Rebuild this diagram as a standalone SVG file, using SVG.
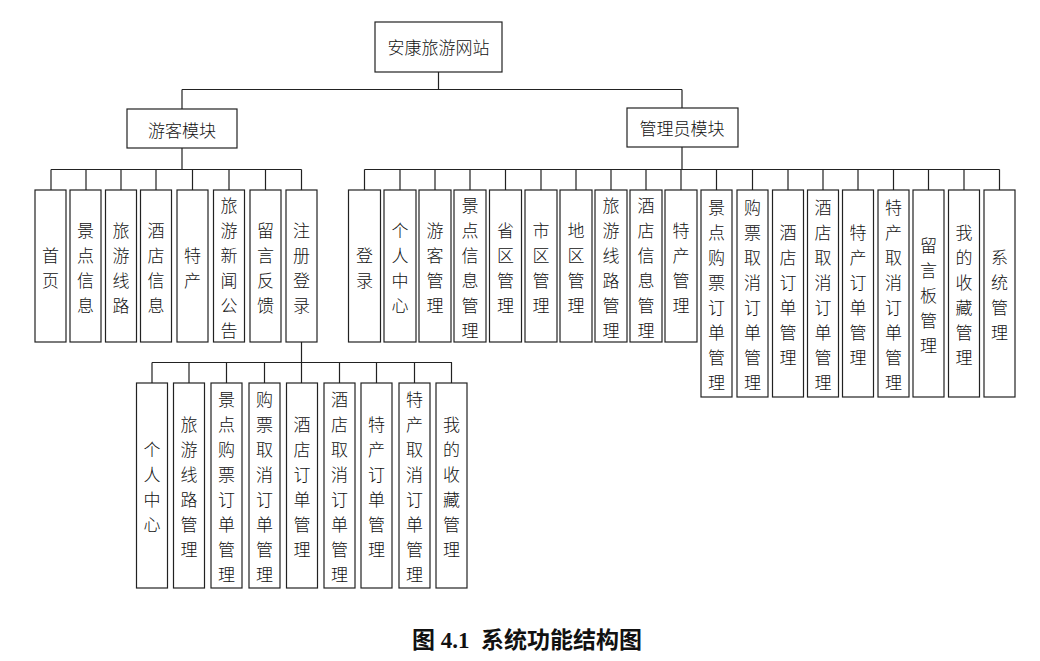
<svg xmlns="http://www.w3.org/2000/svg" width="1040" height="661" viewBox="0 0 1040 661">
<style>
.b{fill:#fff;stroke:#222;stroke-width:1.2}
.c{fill:none;stroke:#222;stroke-width:1.2}
.t{font-family:"Noto Sans CJK SC","Liberation Serif",sans-serif;font-size:17px;font-weight:300;fill:#111;text-anchor:middle;dominant-baseline:central}
.cap{font-family:"Liberation Serif","Noto Sans CJK SC",serif;font-size:23px;font-weight:bold;fill:#111;text-anchor:middle;dominant-baseline:central}
</style>
<rect width="1040" height="661" fill="#fff"/>
<g id="connectors">
<path class="c" d="M438.5,72V89.5M182,89.5H682M182,89.5V109M682,89.5V108"/>
<path class="c" d="M182,148V169.5M51,169.5H301.5M51,169.5V190M86,169.5V190M121,169.5V190M156,169.5V190M192.5,169.5V190M229,169.5V190M265.5,169.5V190M301.5,169.5V190"/>
<path class="c" d="M682,147V169.5M364.5,169.5H999.5M364.5,169.5V190M400,169.5V190M435,169.5V190M470,169.5V190M505.5,169.5V190M541,169.5V190M576,169.5V190M611,169.5V190M646,169.5V190M681,169.5V190M716.5,169.5V190M752.5,169.5V190M788,169.5V190M823,169.5V190M858,169.5V190M893.5,169.5V190M928.5,169.5V190M964,169.5V190M999.5,169.5V190"/>
<path class="c" d="M301.5,342V362.5M152,362.5H452M152,362.5V383M189,362.5V383M226.5,362.5V383M264.5,362.5V383M301.5,362.5V383M339.5,362.5V383M376.5,362.5V383M414.5,362.5V383M451.5,362.5V383"/>
</g>
<g id="root"><rect class="b" x="375" y="22" width="127" height="50"/><text class="t" x="438.5" y="46">安康旅游网站</text></g>
<g id="visitor"><rect class="b" x="127" y="109" width="110" height="39"/><text class="t" x="182" y="129">游客模块</text></g>
<g id="admin"><rect class="b" x="627" y="108" width="111" height="39"/><text class="t" x="682" y="127.5">管理员模块</text></g>

<g id="v1"><rect class="b" x="35" y="190" width="31" height="152"/><text class="t"><tspan x="50.5" y="253.5">首</tspan><tspan x="50.5" y="278.5">页</tspan></text></g>
<g id="v2"><rect class="b" x="70" y="190" width="31" height="152"/><text class="t"><tspan x="85.5" y="228.5">景</tspan><tspan x="85.5" y="253.5">点</tspan><tspan x="85.5" y="278.5">信</tspan><tspan x="85.5" y="303.5">息</tspan></text></g>
<g id="v3"><rect class="b" x="105.5" y="190" width="31" height="152"/><text class="t"><tspan x="121" y="228.5">旅</tspan><tspan x="121" y="253.5">游</tspan><tspan x="121" y="278.5">线</tspan><tspan x="121" y="303.5">路</tspan></text></g>
<g id="v4"><rect class="b" x="140.5" y="190" width="31" height="152"/><text class="t"><tspan x="156" y="228.5">酒</tspan><tspan x="156" y="253.5">店</tspan><tspan x="156" y="278.5">信</tspan><tspan x="156" y="303.5">息</tspan></text></g>
<g id="v5"><rect class="b" x="177" y="190" width="31" height="152"/><text class="t"><tspan x="192.5" y="253.5">特</tspan><tspan x="192.5" y="278.5">产</tspan></text></g>
<g id="v6"><rect class="b" x="213.5" y="190" width="31" height="152"/><text class="t"><tspan x="229" y="203.5">旅</tspan><tspan x="229" y="228.5">游</tspan><tspan x="229" y="253.5">新</tspan><tspan x="229" y="278.5">闻</tspan><tspan x="229" y="303.5">公</tspan><tspan x="229" y="328.5">告</tspan></text></g>
<g id="v7"><rect class="b" x="250" y="190" width="31" height="152"/><text class="t"><tspan x="265.5" y="228.5">留</tspan><tspan x="265.5" y="253.5">言</tspan><tspan x="265.5" y="278.5">反</tspan><tspan x="265.5" y="303.5">馈</tspan></text></g>
<g id="v8"><rect class="b" x="286" y="190" width="31" height="152"/><text class="t"><tspan x="301.5" y="228.5">注</tspan><tspan x="301.5" y="253.5">册</tspan><tspan x="301.5" y="278.5">登</tspan><tspan x="301.5" y="303.5">录</tspan></text></g>

<g id="a1"><rect class="b" x="348.5" y="190" width="32" height="152"/><text class="t"><tspan x="364.5" y="253.5">登</tspan><tspan x="364.5" y="278.5">录</tspan></text></g>
<g id="a2"><rect class="b" x="384" y="190" width="32" height="152"/><text class="t"><tspan x="400" y="228.5">个</tspan><tspan x="400" y="253.5">人</tspan><tspan x="400" y="278.5">中</tspan><tspan x="400" y="303.5">心</tspan></text></g>
<g id="a3"><rect class="b" x="419" y="190" width="32" height="152"/><text class="t"><tspan x="435" y="228.5">游</tspan><tspan x="435" y="253.5">客</tspan><tspan x="435" y="278.5">管</tspan><tspan x="435" y="303.5">理</tspan></text></g>
<g id="a4"><rect class="b" x="454" y="190" width="32" height="152"/><text class="t"><tspan x="470" y="203.5">景</tspan><tspan x="470" y="228.5">点</tspan><tspan x="470" y="253.5">信</tspan><tspan x="470" y="278.5">息</tspan><tspan x="470" y="303.5">管</tspan><tspan x="470" y="328.5">理</tspan></text></g>
<g id="a5"><rect class="b" x="489.5" y="190" width="32" height="152"/><text class="t"><tspan x="505.5" y="228.5">省</tspan><tspan x="505.5" y="253.5">区</tspan><tspan x="505.5" y="278.5">管</tspan><tspan x="505.5" y="303.5">理</tspan></text></g>
<g id="a6"><rect class="b" x="525" y="190" width="32" height="152"/><text class="t"><tspan x="541" y="228.5">市</tspan><tspan x="541" y="253.5">区</tspan><tspan x="541" y="278.5">管</tspan><tspan x="541" y="303.5">理</tspan></text></g>
<g id="a7"><rect class="b" x="560" y="190" width="32" height="152"/><text class="t"><tspan x="576" y="228.5">地</tspan><tspan x="576" y="253.5">区</tspan><tspan x="576" y="278.5">管</tspan><tspan x="576" y="303.5">理</tspan></text></g>
<g id="a8"><rect class="b" x="595" y="190" width="32" height="152"/><text class="t"><tspan x="611" y="203.5">旅</tspan><tspan x="611" y="228.5">游</tspan><tspan x="611" y="253.5">线</tspan><tspan x="611" y="278.5">路</tspan><tspan x="611" y="303.5">管</tspan><tspan x="611" y="328.5">理</tspan></text></g>
<g id="a9"><rect class="b" x="630" y="190" width="32" height="152"/><text class="t"><tspan x="646" y="203.5">酒</tspan><tspan x="646" y="228.5">店</tspan><tspan x="646" y="253.5">信</tspan><tspan x="646" y="278.5">息</tspan><tspan x="646" y="303.5">管</tspan><tspan x="646" y="328.5">理</tspan></text></g>
<g id="a10"><rect class="b" x="665" y="190" width="32" height="152"/><text class="t"><tspan x="681" y="228.5">特</tspan><tspan x="681" y="253.5">产</tspan><tspan x="681" y="278.5">管</tspan><tspan x="681" y="303.5">理</tspan></text></g>
<g id="a11"><rect class="b" x="701" y="190" width="31" height="207"/><text class="t"><tspan x="716.5" y="206">景</tspan><tspan x="716.5" y="231">点</tspan><tspan x="716.5" y="256">购</tspan><tspan x="716.5" y="281">票</tspan><tspan x="716.5" y="306">订</tspan><tspan x="716.5" y="331">单</tspan><tspan x="716.5" y="356">管</tspan><tspan x="716.5" y="381">理</tspan></text></g>
<g id="a12"><rect class="b" x="737" y="190" width="31" height="207"/><text class="t"><tspan x="752.5" y="206">购</tspan><tspan x="752.5" y="231">票</tspan><tspan x="752.5" y="256">取</tspan><tspan x="752.5" y="281">消</tspan><tspan x="752.5" y="306">订</tspan><tspan x="752.5" y="331">单</tspan><tspan x="752.5" y="356">管</tspan><tspan x="752.5" y="381">理</tspan></text></g>
<g id="a13"><rect class="b" x="772.5" y="190" width="31" height="207"/><text class="t"><tspan x="788" y="231">酒</tspan><tspan x="788" y="256">店</tspan><tspan x="788" y="281">订</tspan><tspan x="788" y="306">单</tspan><tspan x="788" y="331">管</tspan><tspan x="788" y="356">理</tspan></text></g>
<g id="a14"><rect class="b" x="807.5" y="190" width="31" height="207"/><text class="t"><tspan x="823" y="206">酒</tspan><tspan x="823" y="231">店</tspan><tspan x="823" y="256">取</tspan><tspan x="823" y="281">消</tspan><tspan x="823" y="306">订</tspan><tspan x="823" y="331">单</tspan><tspan x="823" y="356">管</tspan><tspan x="823" y="381">理</tspan></text></g>
<g id="a15"><rect class="b" x="842.5" y="190" width="31" height="207"/><text class="t"><tspan x="858" y="231">特</tspan><tspan x="858" y="256">产</tspan><tspan x="858" y="281">订</tspan><tspan x="858" y="306">单</tspan><tspan x="858" y="331">管</tspan><tspan x="858" y="356">理</tspan></text></g>
<g id="a16"><rect class="b" x="878" y="190" width="31" height="207"/><text class="t"><tspan x="893.5" y="206">特</tspan><tspan x="893.5" y="231">产</tspan><tspan x="893.5" y="256">取</tspan><tspan x="893.5" y="281">消</tspan><tspan x="893.5" y="306">订</tspan><tspan x="893.5" y="331">单</tspan><tspan x="893.5" y="356">管</tspan><tspan x="893.5" y="381">理</tspan></text></g>
<g id="a17"><rect class="b" x="913" y="190" width="31" height="207"/><text class="t"><tspan x="928.5" y="243.5">留</tspan><tspan x="928.5" y="268.5">言</tspan><tspan x="928.5" y="293.5">板</tspan><tspan x="928.5" y="318.5">管</tspan><tspan x="928.5" y="343.5">理</tspan></text></g>
<g id="a18"><rect class="b" x="948.5" y="190" width="31" height="207"/><text class="t"><tspan x="964" y="231">我</tspan><tspan x="964" y="256">的</tspan><tspan x="964" y="281">收</tspan><tspan x="964" y="306">藏</tspan><tspan x="964" y="331">管</tspan><tspan x="964" y="356">理</tspan></text></g>
<g id="a19"><rect class="b" x="984" y="190" width="31" height="207"/><text class="t"><tspan x="999.5" y="256">系</tspan><tspan x="999.5" y="281">统</tspan><tspan x="999.5" y="306">管</tspan><tspan x="999.5" y="331">理</tspan></text></g>

<g id="u1"><rect class="b" x="136.5" y="383" width="31" height="205"/><text class="t"><tspan x="152" y="448">个</tspan><tspan x="152" y="473">人</tspan><tspan x="152" y="498">中</tspan><tspan x="152" y="523">心</tspan></text></g>
<g id="u2"><rect class="b" x="173.5" y="383" width="31" height="205"/><text class="t"><tspan x="189" y="423">旅</tspan><tspan x="189" y="448">游</tspan><tspan x="189" y="473">线</tspan><tspan x="189" y="498">路</tspan><tspan x="189" y="523">管</tspan><tspan x="189" y="548">理</tspan></text></g>
<g id="u3"><rect class="b" x="211" y="383" width="31" height="205"/><text class="t"><tspan x="226.5" y="398">景</tspan><tspan x="226.5" y="423">点</tspan><tspan x="226.5" y="448">购</tspan><tspan x="226.5" y="473">票</tspan><tspan x="226.5" y="498">订</tspan><tspan x="226.5" y="523">单</tspan><tspan x="226.5" y="548">管</tspan><tspan x="226.5" y="573">理</tspan></text></g>
<g id="u4"><rect class="b" x="249" y="383" width="31" height="205"/><text class="t"><tspan x="264.5" y="398">购</tspan><tspan x="264.5" y="423">票</tspan><tspan x="264.5" y="448">取</tspan><tspan x="264.5" y="473">消</tspan><tspan x="264.5" y="498">订</tspan><tspan x="264.5" y="523">单</tspan><tspan x="264.5" y="548">管</tspan><tspan x="264.5" y="573">理</tspan></text></g>
<g id="u5"><rect class="b" x="286.5" y="383" width="31" height="205"/><text class="t"><tspan x="302" y="423">酒</tspan><tspan x="302" y="448">店</tspan><tspan x="302" y="473">订</tspan><tspan x="302" y="498">单</tspan><tspan x="302" y="523">管</tspan><tspan x="302" y="548">理</tspan></text></g>
<g id="u6"><rect class="b" x="324" y="383" width="31" height="205"/><text class="t"><tspan x="339.5" y="398">酒</tspan><tspan x="339.5" y="423">店</tspan><tspan x="339.5" y="448">取</tspan><tspan x="339.5" y="473">消</tspan><tspan x="339.5" y="498">订</tspan><tspan x="339.5" y="523">单</tspan><tspan x="339.5" y="548">管</tspan><tspan x="339.5" y="573">理</tspan></text></g>
<g id="u7"><rect class="b" x="361" y="383" width="31" height="205"/><text class="t"><tspan x="376.5" y="423">特</tspan><tspan x="376.5" y="448">产</tspan><tspan x="376.5" y="473">订</tspan><tspan x="376.5" y="498">单</tspan><tspan x="376.5" y="523">管</tspan><tspan x="376.5" y="548">理</tspan></text></g>
<g id="u8"><rect class="b" x="399" y="383" width="31" height="205"/><text class="t"><tspan x="414.5" y="398">特</tspan><tspan x="414.5" y="423">产</tspan><tspan x="414.5" y="448">取</tspan><tspan x="414.5" y="473">消</tspan><tspan x="414.5" y="498">订</tspan><tspan x="414.5" y="523">单</tspan><tspan x="414.5" y="548">管</tspan><tspan x="414.5" y="573">理</tspan></text></g>
<g id="u9"><rect class="b" x="436" y="383" width="31" height="205"/><text class="t"><tspan x="451.5" y="423">我</tspan><tspan x="451.5" y="448">的</tspan><tspan x="451.5" y="473">收</tspan><tspan x="451.5" y="498">藏</tspan><tspan x="451.5" y="523">管</tspan><tspan x="451.5" y="548">理</tspan></text></g>

<text class="cap" x="527" y="640" xml:space="preserve">图 4.1  系统功能结构图</text>
</svg>
